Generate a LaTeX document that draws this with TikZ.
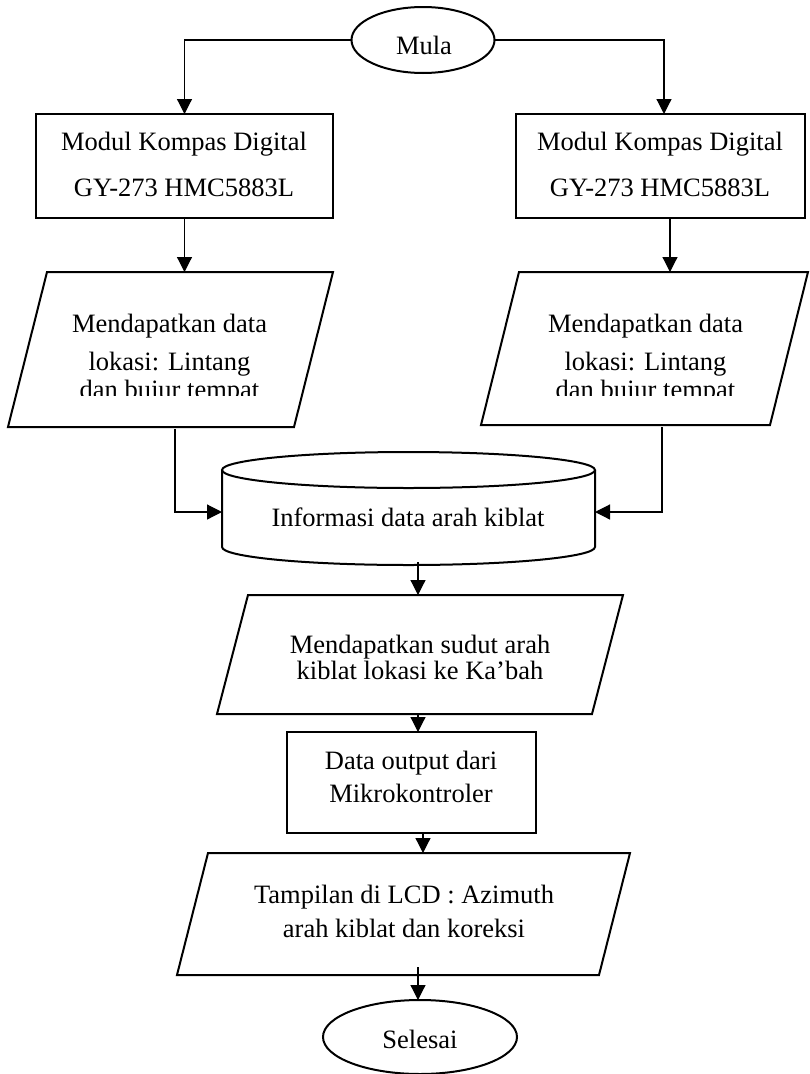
\documentclass[tikz,border=0pt]{standalone}
\usepackage{fontspec}
\setmainfont{Liberation Serif}
\usetikzlibrary{arrows.meta,calc,shapes.geometric}
\newcommand{\drawpara}[2]{%
  \draw[shapeline] ($(#1.north west)+(#2,0)$) -- (#1.north east) --
    ($(#1.south east)+(-#2,0)$) -- (#1.south west) -- cycle;}
\begin{document}
\begin{tikzpicture}[x=1pt,y=-1pt,
  shapeline/.style={line width=2pt, line join=miter},
  conn/.style={line width=1.2pt,-{Triangle[width=15pt,length=15pt]}},
  region/.style 2 args={minimum width=#1pt, minimum height=#2pt, inner sep=0pt, outer sep=0pt},
  boxnode/.style 2 args={region={#1}{#2}, draw, line width=2pt},
  ovalnode/.style 2 args={region={#1}{#2}, ellipse, draw, line width=2pt},
  txt/.style={align=center, inner sep=0pt, font=\fontsize{26.5}{#1}\selectfont},
  txt/.default=38
]
\useasboundingbox (0,0) rectangle (809,1074);

% start
\node[ovalnode={143}{66}] (mula) at (423,40) {};
\node[txt, anchor=base] (mulat) at (424,54) {Mula};

% compass modules
\node[boxnode={297}{104}] (L1) at (184.5,166) {};
\node[txt=46] (L1t) at (184,164) {Modul Kompas Digital\\GY-273 HMC5883L};
\node[boxnode={289}{104}] (R1) at (660.5,166) {};
\node[txt=46] (R1t) at (660,164) {Modul Kompas Digital\\GY-273 HMC5883L};

% location data
\node[region={325}{155}] (L2) at (170.5,349.5) {};
\drawpara{L2}{39}
\node[region={327}{153}] (R2) at (644.5,348.5) {};
\drawpara{R2}{38}
\begin{scope}
\clip (0,0) rectangle (809,395.5);
\node[txt] (L2t) at (169.5,358.8) {Mendapatkan data\\lokasi: Lintang\\[-10pt]dan bujur tempat};
\node[txt] (R2t) at (645.5,358.8) {Mendapatkan data\\lokasi: Lintang\\[-10pt]dan bujur tempat};
\end{scope}

% database cylinder
\node[region={373}{113}] (C) at (408.5,508.5) {};
\draw[shapeline] ([yshift=-18pt]C.north) ellipse [x radius=186.5pt, y radius=18pt];
\draw[shapeline] ([yshift=-18pt]C.north west) -- ([yshift=18pt]C.south west)
  arc[start angle=180, end angle=360, x radius=186.5pt, y radius=18pt]
  -- ([yshift=-18pt]C.north east);
\node[txt, anchor=base] (Ct) at (408,526) {Informasi data arah kiblat};

% qibla angle
\node[region={406}{119}] (S) at (420,654.5) {};
\drawpara{S}{31}
\node[txt=26] (St) at (420,657) {Mendapatkan sudut arah\\kiblat lokasi ke Ka’bah};

% output data
\node[boxnode={249}{101}] (D) at (411.5,782.5) {};
\node[txt=33] (Dt) at (411,776.5) {Data output dari\\Mikrokontroler};

% display
\node[region={453}{122}] (T) at (403.5,914) {};
\drawpara{T}{31}
\node[txt=34] (Tt) at (404,911) {Tampilan di LCD : Azimuth\\arah kiblat dan koreksi};

% end
\node[ovalnode={194}{74}] (E) at (420,1037) {};
\node[txt, anchor=base] (Et) at (420,1048) {Selesai};

% connectors
\draw[conn] (mula.west) -| (L1.north);
\draw[conn] (mula.east) -| ([xshift=3.5pt]R1.north);
\draw[conn] (L1.south) -- (L1.south |- L2.north);
\coordinate (r1out) at ([xshift=9.5pt]R1.south);
\draw[conn] (r1out) -- (r1out |- R2.north);
\draw[conn] ([xshift=4.5pt,yshift=-2pt]L2.south) |- ([yshift=-3.5pt]C.west);
\draw[conn] ([xshift=17.5pt,yshift=-2pt]R2.south) |- ([yshift=-3.5pt]C.east);
\coordinate (cout) at ([xshift=9.5pt,yshift=3pt]C.south);
\draw[conn] (cout) -- (cout |- S.north);
\coordinate (sout) at ([xshift=-2pt]S.south);
\draw[conn] (sout) -- (sout |- D.north);
\coordinate (dout) at ([xshift=11.5pt]D.south);
\draw[conn] (dout) -- (dout |- T.north);
\coordinate (tout) at ([xshift=14.5pt,yshift=8pt]T.south);
\draw[conn] (tout) -- (tout |- E.north);
\end{tikzpicture}
\end{document}
